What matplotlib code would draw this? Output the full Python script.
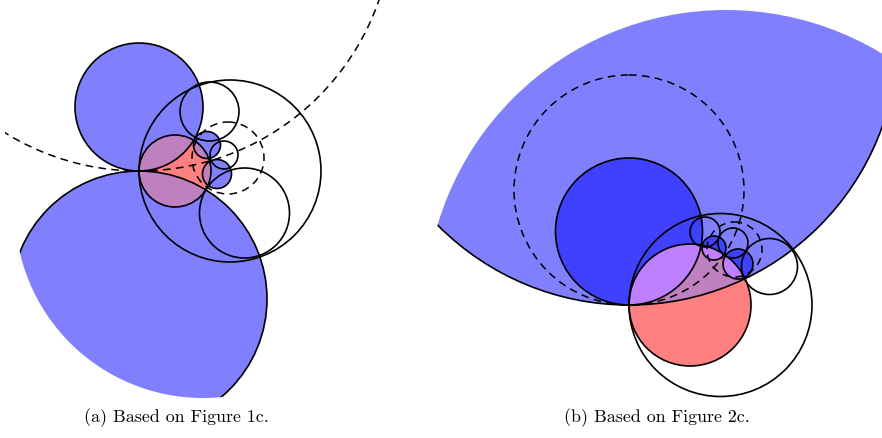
import matplotlib
matplotlib.use("Agg")
import matplotlib.pyplot as plt
from matplotlib.patches import Circle, Rectangle

LIGHT_BLUE = "#8080ff"
DARK_BLUE = "#4040ff"
RED = "#ff8080"
MAUVE = "#bf80bf"
VIOLET = "#bf80ff"
LW = 1.2
DASH = (0, (5, 3.5))

# ---- panel (a): circles given as (x, y, r) in pixel units, y pointing down ----
a_upper = (139, 107, 64)
a_lower = (139, 299, 128)
a_window = (203, 210, 188)
a_dashed = [(139, -83, 254), (228, 158, 36)]
a_outer = (230, 171, 91)
a_red = (175, 171, 36)
a_plain = [(209.5, 111.5, 29.5), (244.5, 213, 45), (224, 155, 14)]
a_small_blue = [(207, 145, 13.5), (217, 174, 14.5)]

# ---- panel (b) ----
b_lens = (629, 36, 269)
b_window = (726, 311, 301)
b_inner = (629, 231.5, 73.5)
b_dashed = [(629, 190, 115), (734.5, 249.5, 27.5)]
b_red = (690, 305, 61)
b_outer = (720.5, 305, 91.5)
b_plain = [(769.5, 266.5, 28), (705, 232, 15), (733, 243, 15)]
b_small_blue = [(714, 248, 12), (738, 264, 15)]

captions = ["(a) Based on Figure 1c.", "(b) Based on Figure 2c."]
caption_x = [176, 657]
caption_y = 418

fig = plt.figure(figsize=(8.82, 4.38), dpi=100)
ax = fig.add_axes([0, 0, 1, 1])
ax.set_xlim(0, 882)
ax.set_ylim(438, 0)
ax.set_aspect("equal")
ax.axis("off")


def circ(c, **kw):
    return Circle((c[0], c[1]), c[2], **kw)


def clipper(c):
    p = circ(c)
    p.set_transform(ax.transData)
    return p


def fill(c, color, clip=None, z=1):
    p = circ(c, facecolor=color, edgecolor="none", zorder=z)
    ax.add_patch(p)
    if clip is not None:
        p.set_clip_path(clipper(clip))
    return p


def outline(c, clip=None, dashed=False, z=5, lw=LW):
    p = circ(c, facecolor="none", edgecolor="black", lw=lw, zorder=z,
             linestyle=DASH if dashed else "-")
    ax.add_patch(p)
    if clip is not None:
        if isinstance(clip, tuple):
            p.set_clip_path(clipper(clip))
        else:
            p.set_clip_path(clip)
    return p


# ---------------- panel (a) ----------------
fill(a_upper, LIGHT_BLUE)
fill(a_lower, LIGHT_BLUE, clip=a_window)
for c in a_small_blue:
    fill(c, LIGHT_BLUE)
fill(a_red, RED, z=2)
for c in [a_upper, a_lower] + a_small_blue:
    fill(a_red, MAUVE, clip=c, z=3)

outline(a_upper)
outline(a_lower, clip=a_window)
outline(a_red)
outline(a_outer)
for c in a_plain + a_small_blue:
    outline(c)

box_a = Rectangle((5, 0), 420, 400)
box_a.set_transform(ax.transData)
outline(a_dashed[0], clip=box_a, dashed=True, z=6, lw=1.1)
outline(a_dashed[1], dashed=True, z=6, lw=1.1)

# ---------------- panel (b) ----------------
fill(b_lens, LIGHT_BLUE, clip=b_window)
fill(b_inner, DARK_BLUE)
for c in b_small_blue:
    fill(c, DARK_BLUE)
fill(b_red, RED, z=2)
fill(b_red, MAUVE, clip=b_lens, z=3)
for c in [b_inner] + b_small_blue:
    fill(b_red, VIOLET, clip=c, z=4)

outline(b_lens, clip=b_window)
outline(b_inner)
outline(b_red)
outline(b_outer)
for c in b_plain + b_small_blue:
    outline(c)
for c in b_dashed:
    outline(c, dashed=True, z=6, lw=1.1)

for x, t in zip(caption_x, captions):
    ax.text(x, caption_y, t, ha="center", va="center", fontsize=12.9,
            family="cmr10")

fig.savefig("out.png", dpi=100)
